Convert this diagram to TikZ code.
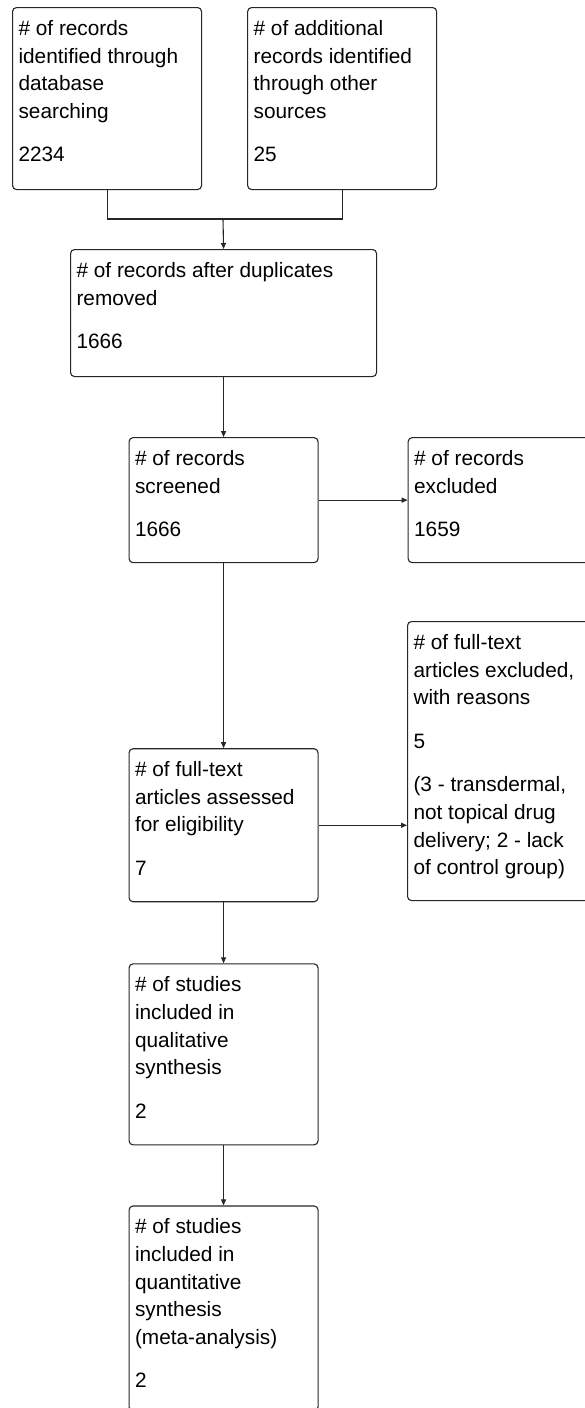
\documentclass[tikz,border=0pt]{standalone}
\usepackage{fontspec}
\newfontfamily\prismafont{Liberation Sans}
\usetikzlibrary{positioning,arrows.meta}
\tikzset{>={Triangle[width=5pt,length=6pt]}}

\newcommand{\rectext}[3]{%
    \parbox[t][#2][t]{#1}{\prismafont\fontsize{20.8pt}{27.6pt}\selectfont\raggedright
    \rule{0pt}{28pt}#3}}

\begin{document}
\begin{tikzpicture}[
    x=1pt, y=-1pt,
    rec/.style={
        draw=black!85,
        line width=1.1pt,
        rounded corners=4pt,
        inner xsep=6pt,
        inner ysep=0pt
        },
    link/.style={draw=black!85, line width=1.1pt}
    ]
    \useasboundingbox (0,0) rectangle (585,1408);
    \clip (0,0) rectangle (585,1408);

    \node[rec, anchor=north west] (recA) at (12,7) {\rectext{177pt}{182pt}{\# of records\\identified through\\database\\searching\\[16pt]2234}};
    \node[rec, right=45pt of recA] (recB) {\rectext{177pt}{182pt}{\# of additional\\records identified\\through other\\sources\\[16pt]25}};
    \node[rec, anchor=north west] (recC) at (70,249) {\rectext{294pt}{127pt}{\# of records after duplicates\\removed\\[16pt]1666}};
    \node[rec, below=60pt of recC] (recD) {\rectext{177pt}{125pt}{\# of records\\screened\\[16pt]1666}};
    \node[rec, right=89pt of recD] (recE) {\rectext{177pt}{125pt}{\# of records\\excluded\\[16pt]1659}};
    \node[rec, below=185pt of recD] (recF) {\rectext{177pt}{153pt}{\# of full-text\\articles assessed\\for eligibility\\[16pt]7}};
    \node[rec, anchor=north west] (recG) at (407,621) {\rectext{177pt}{279pt}{\# of full-text\\articles excluded,\\with reasons\\[16pt]5\\[16pt](3 - transdermal,\\not topical drug\\delivery; 2 - lack\\of control group)}};
    \node[rec, below=61pt of recF] (recH) {\rectext{177pt}{181pt}{\# of studies\\included in\\qualitative\\synthesis\\[16pt]2}};
    \node[rec, below=60pt of recH] (recI) {\rectext{177pt}{205pt}{\# of studies\\included in\\quantitative\\synthesis\\(meta-analysis)\\[16pt]2}};

    \coordinate (merge) at (223,219);
    \draw[link] (recA.south) |- (merge) -| (recB.south);
    \draw[link,->] (merge) -- (recC.north);
    \draw[link,->] (recC.south) -- (recD.north);
    \draw[link,->] (recD.east) -- (recE.west);
    \draw[link,->] (recD.south) -- (recF.north);
    \draw[link,->] (recF.east) -- (recF.east -| recG.west);
    \draw[link,->] (recF.south) -- (recH.north);
    \draw[link,->] (recH.south) -- (recI.north);
\end{tikzpicture}
\end{document}
